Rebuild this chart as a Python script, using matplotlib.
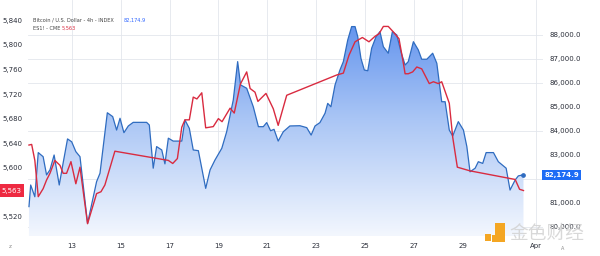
import numpy as np
import matplotlib
matplotlib.use('Agg')
import matplotlib.pyplot as plt
from matplotlib.colors import LinearSegmentedColormap
from matplotlib.patches import Rectangle

# BTC/USD 4h (right axis), x = day of March (Apr 1 = 32)
btc_day = [11.24, 11.31, 11.48, 11.62, 11.82, 11.96, 12.10, 12.27, 12.48, 12.64,
           12.82, 12.99, 13.16, 13.33, 13.64, 14.01, 14.15, 14.45, 14.67, 14.83,
           14.97, 15.13, 15.31, 15.51, 16.06, 16.17, 16.33, 16.47, 16.68, 16.81,
           16.95, 17.15, 17.50, 17.63, 17.81, 17.97, 18.18, 18.48, 18.66, 18.86,
           19.14, 19.34, 19.61, 19.79, 19.91, 20.16, 20.43, 20.64, 20.84, 20.98,
           21.14, 21.28, 21.45, 21.66, 21.93, 22.34, 22.62, 22.80, 22.96, 23.16,
           23.37, 23.48, 23.61, 23.78, 23.98, 24.12, 24.30, 24.46, 24.60, 24.71,
           24.84, 24.98, 25.12, 25.28, 25.46, 25.62, 25.76, 25.96, 26.13, 26.31,
           26.48, 26.65, 26.78, 26.99, 27.19, 27.33, 27.54, 27.78, 27.95, 28.15,
           28.29, 28.46, 28.60, 28.83, 29.04, 29.18, 29.31, 29.52, 29.65, 29.83,
           29.97, 30.27, 30.47, 30.79, 30.95, 31.16, 31.29, 31.50]
btc_price = [80850, 81750, 81260, 83100, 82930, 82170, 82380, 83000, 81750, 82670,
             83670, 83550, 83140, 82930, 80150, 81890, 82240, 84760, 84600, 84040,
             84530, 83930, 84210, 84360, 84360, 84250, 82450, 83350, 83210, 82630,
             83700, 83580, 83580, 84460, 84110, 83210, 83180, 81610, 82380, 82790,
             83280, 83970, 85290, 86890, 85920, 85780, 85010, 84180, 84180, 84350,
             84010, 84070, 83580, 83970, 84210, 84220, 84140, 83830, 84210, 84350,
             84740, 85150, 85010, 85920, 86540, 86890, 87790, 88350, 88350, 87930,
             87030, 86540, 86510, 87450, 87930, 88140, 87510, 87240, 88140, 88000,
             87300, 86750, 86890, 87720, 87380, 86990, 86990, 87240, 86820, 85220,
             85220, 84040, 83790, 84390, 84040, 83350, 82300, 82450, 82720, 82650,
             83100, 83100, 82720, 82450, 81540, 81960, 82130, 82174.9]

# ES1! (left axis)
es_day = [11.24, 11.35, 11.48, 11.62, 11.82, 11.96, 12.10, 12.30, 12.51, 12.64,
          12.78, 12.96, 13.16, 13.33, 13.64, 14.01, 14.19, 14.35, 14.76, 14.90,
          16.95, 17.13, 17.32, 17.50, 17.63, 17.81, 17.97, 18.12, 18.32, 18.48,
          18.79, 19.00, 19.15, 19.48, 19.65, 19.90, 20.16, 20.30, 20.50, 20.62,
          20.95, 21.25, 21.45, 21.80, 23.85, 24.12, 24.35, 24.60, 24.90, 25.17,
          25.42, 25.58, 25.76, 25.96, 26.17, 26.40, 26.58, 26.65, 26.78, 26.96,
          27.13, 27.33, 27.64, 27.81, 28.01, 28.15, 28.46, 28.60, 28.79, 29.31,
          31.16, 31.34, 31.50]
es_price = [5637, 5638, 5612, 5553, 5566, 5580, 5591, 5612, 5604, 5591,
            5591, 5610, 5574, 5601, 5509, 5558, 5561, 5572, 5627, 5626,
            5612, 5607, 5615, 5666, 5678, 5678, 5715, 5712, 5722, 5665,
            5667, 5680, 5675, 5697, 5689, 5736, 5756, 5729, 5723, 5708,
            5721, 5696, 5669, 5718, 5751, 5754, 5783, 5805, 5812, 5805,
            5814, 5818, 5830, 5830, 5821, 5810, 5770, 5753, 5753, 5756,
            5764, 5761, 5737, 5740, 5737, 5740, 5705, 5650, 5601, 5595,
            5581, 5565, 5563]

day_ticks = [13, 15, 17, 19, 21, 23, 25, 27, 29, 32]
day_labels = ['13', '15', '17', '19', '21', '23', '25', '27', '29', 'Apr']
btc_ticks = [80000, 81000, 83000, 84000, 85000, 86000, 87000, 88000]
btc_grid = [80000, 82000, 84000, 86000, 87000, 88000]
es_ticks = [5520, 5600, 5640, 5680, 5720, 5760, 5800, 5840]
btc_last = 82174.9
es_last = 5563

BLUE = '#2f6cc0'
RED = '#d92b40'
TXT = '#2a2e39'

x0, x1 = 11.2, 32.3
b0, b1 = 79625, 89458
e0, e1 = 5489, 5873

fig = plt.figure(figsize=(6, 2.56), dpi=100)
ax = fig.add_axes([28/600, 1 - 236/256, (543 - 28)/600, 236/256])
ax2 = ax.twinx()

for v in btc_grid:
    ax.axhline(v, color='#e3e6ec', lw=0.6, zorder=0)
for d in day_ticks:
    ax.axvline(d, color='#e3e6ec', lw=0.6, zorder=0)

# gradient area under BTC
poly = ax.fill_between(btc_day, btc_price, b0, color='none', lw=0)
cmap = LinearSegmentedColormap.from_list('fade', ['#f3f7fe', '#a9c5f5', '#5288ec'])
grad = np.linspace(0, 1, 256).reshape(-1, 1)
im = ax.imshow(grad, extent=[x0, x1, b0, b1], origin='lower', aspect='auto',
               cmap=cmap, zorder=1)
im.set_clip_path(poly.get_paths()[0], transform=ax.transData)
ax.plot(btc_day, btc_price, color=BLUE, lw=0.9, zorder=3)
ax.plot(btc_day[-1], btc_price[-1], 'o', color=BLUE, ms=2.4, zorder=4)

ax2.plot(es_day, es_price, color=RED, lw=1.0, zorder=3)

ax.set_xlim(x0, x1)
ax.set_ylim(b0, b1)
ax2.set_ylim(e0, e1)

ax.yaxis.tick_right()
ax2.yaxis.tick_left()
ax.set_yticks(btc_ticks)
ax.set_yticklabels(['{:,.1f}'.format(v) for v in btc_ticks])
ax2.set_yticks(es_ticks)
ax2.set_yticklabels(['{:,}'.format(v) for v in es_ticks])
ax.set_xticks(day_ticks)
ax.set_xticklabels(day_labels)

for a in (ax, ax2):
    for s in a.spines.values():
        s.set_visible(False)
ax.tick_params(axis='y', length=0, pad=5, labelsize=5, labelcolor=TXT)
ax2.tick_params(axis='y', length=0, pad=4, labelsize=5, labelcolor=TXT)
ax.tick_params(axis='x', length=0, pad=5, labelsize=5, labelcolor=TXT)

# last value tags
ax.text(1.003, btc_last, '{:,.1f}'.format(btc_last), transform=ax.get_yaxis_transform(),
        ha='left', va='center', fontsize=5, color='white', fontweight='bold',
        bbox=dict(boxstyle='square,pad=0.3', fc='#1e6cf5', ec='none'), clip_on=False)
ax2.text(-0.052, es_last, '{:,}'.format(es_last), transform=ax2.get_yaxis_transform(),
         ha='left', va='center', fontsize=5, color='white',
         bbox=dict(boxstyle='square,pad=0.45', fc='#ee2a42', ec='none'), clip_on=False)

# legend
fig.text(33/600, 1 - 20/256, 'Bitcoin / U.S. Dollar - 4h - INDEX', fontsize=3.6, color='#444', va='center')
fig.text(124/600, 1 - 20/256, '{:,.1f}'.format(btc_last), fontsize=3.6, color='#2962ff', va='center')
fig.text(33/600, 1 - 28.5/256, 'ES1! - CME', fontsize=3.6, color='#444', va='center')
fig.text(62/600, 1 - 28.5/256, '{:,}'.format(es_last), fontsize=3.6, color=RED, va='center')

fig.text(10/600, 1 - 246/256, 'z', fontsize=4, color='#888', ha='center', va='center')
fig.text(563/600, 1 - 249/256, 'A', fontsize=3.5, color='#888', ha='center', va='center')

# watermark
orange = '#f4a623'
for (px, py, pw, ph) in [(485, 241, 6, 7), (495, 242, 10, 19), (492, 242, 13, 7)]:
    fig.patches.append(Rectangle((px/600, 1 - py/256), pw/600, ph/256, transform=fig.transFigure,
                                 fc=orange, ec='none', zorder=5))
fig.text(509/600, 1 - 233/256, '金色财经', fontsize=13.5, family='Noto Sans CJK SC',
         color='#d2d2d2', va='center', alpha=0.85, zorder=6)

fig.savefig('out.png', dpi=100)
